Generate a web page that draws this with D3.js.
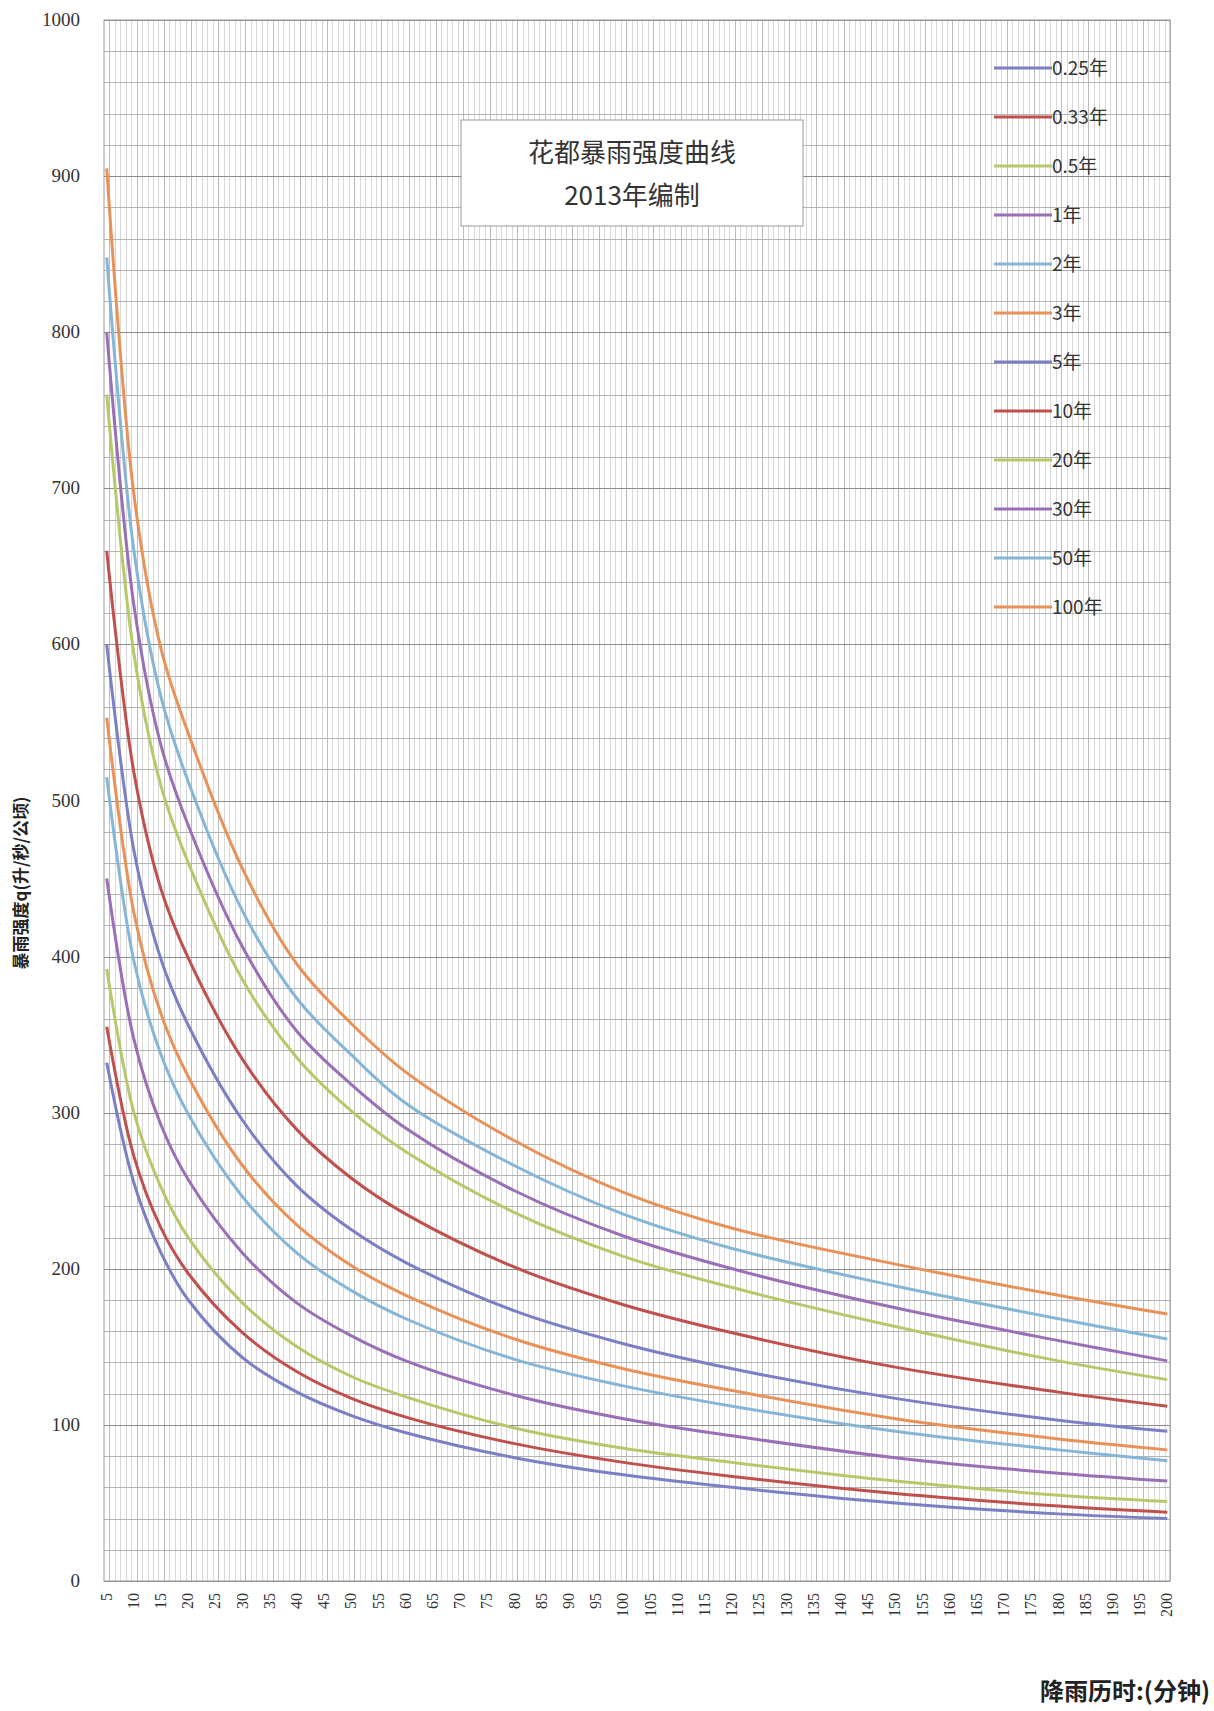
<!DOCTYPE html>
<html><head><meta charset="utf-8">
<script src="https://cdn.jsdelivr.net/npm/d3@7"></script>
<style>body{margin:0;background:#fff}</style>
</head><body><div id="chart"></div>
<script>
var minutes = [5,10,15,20,30,40,50,60,80,100,120,150,180,200];
var seriesNames = ["0.25年","0.33年","0.5年","1年","2年","3年","5年","10年","20年","30年","50年","100年"];
var q025 = [332,255,210,180,143,121,106,95,79,68,60,50,43,40];
var q033 = [355,272,226,197,159,134,117,105,88,76,67,56,48,44];
var q05  = [392,300,252,220,178,150,131,118,98,85,76,64,55,51];
var q1   = [450,347,292,257,210,178,157,141,119,104,93,79,69,64];
var q2   = [515,397,337,299,246,210,186,168,142,125,112,96,84,77];
var q3   = [553,428,363,323,266,228,202,183,155,136,122,104,91,84];
var q5   = [600,468,398,356,295,253,225,204,173,152,136,117,103,96];
var q10  = [660,518,443,399,334,289,258,235,201,177,159,137,121,112];
var q20  = [760,594,509,460,385,335,301,275,236,208,188,163,141,129];
var q30  = [800,625,535,484,406,352,318,290,250,221,200,175,154,141];
var q50  = [848,660,566,512,429,373,337,306,266,235,213,189,168,155];
var q100 = [905,696,597,543,456,395,357,326,282,249,226,203,183,171];
var seriesValues = [q025,q033,q05,q1,q2,q3,q5,q10,q20,q30,q50,q100];
var colors = ["#7b7fc4","#c0504d","#b5c96a","#9a6fb5","#86b6d6","#e8925a","#7b7fc4","#c0504d","#b5c96a","#9a6fb5","#86b6d6","#e8925a"];
var yTicks = d3.range(0,1001,100);
var xTicks = d3.range(5,201,5);

var W = 1214, H = 1711;
var m = {left:104, right:1170, top:20, bottom:1581};
var svg = d3.select("#chart").append("svg").attr("width",W).attr("height",H);

var x = d3.scaleLinear().domain([4.5,200.5]).range([m.left,m.right]);
var y = d3.scaleLinear().domain([0,1000]).range([m.bottom,m.top]);

var grid = svg.append("g");
grid.selectAll("line.v").data(d3.range(5,201,1)).enter().append("line")
  .attr("x1",function(d){return Math.round(x(d+0.5))+0.5;}).attr("x2",function(d){return Math.round(x(d+0.5))+0.5;})
  .attr("y1",m.top).attr("y2",m.bottom)
  .attr("stroke",function(d){return d%5===0?"#bcbcbc":"#d8d8d8";}).attr("stroke-width",1);
grid.selectAll("line.h").data(d3.range(0,1001,20)).enter().append("line")
  .attr("x1",m.left).attr("x2",m.right)
  .attr("y1",function(d){return Math.round(y(d))+0.5;}).attr("y2",function(d){return Math.round(y(d))+0.5;})
  .attr("stroke",function(d){return d%100===0?"#8c8c8c":"#b4b4b4";}).attr("stroke-width",1);
svg.append("rect").attr("x",m.left).attr("y",m.top).attr("width",m.right-m.left).attr("height",m.bottom-m.top)
  .attr("fill","none").attr("stroke","#999");

svg.append("g").selectAll("text").data(yTicks).enter().append("text")
  .attr("x",80).attr("y",function(d){return y(d)+6;}).attr("text-anchor","end")
  .attr("font-family","Liberation Serif").attr("font-size",19).attr("fill","#333")
  .text(function(d){return d;});

svg.append("g").selectAll("text").data(xTicks).enter().append("text")
  .attr("transform",function(d){return "translate("+(x(d)+5)+","+(m.bottom+12)+") rotate(-90)";})
  .attr("text-anchor","end")
  .attr("font-family","Liberation Serif").attr("font-size",16).attr("fill","#333")
  .text(function(d){return d;});

var line = d3.line().x(function(d,i){return x(minutes[i]);}).y(function(d){return y(d);}).curve(d3.curveCatmullRom.alpha(0.5));
svg.append("g").selectAll("path").data(seriesValues).enter().append("path")
  .attr("d",line).attr("fill","none").attr("stroke-width",3)
  .attr("stroke",function(d,i){return colors[i];});

var lg = svg.append("g").attr("transform","translate(994,68)");
seriesNames.forEach(function(n,i){
  var g = lg.append("g").attr("transform","translate(0,"+(i*49)+")");
  g.append("line").attr("x1",0).attr("x2",58).attr("stroke",colors[i]).attr("stroke-width",3);
  g.append("text").attr("x",58).attr("y",7).attr("font-family","Noto Sans CJK SC").attr("font-size",19).attr("fill","#333").text(n);
});

svg.append("rect").attr("x",461).attr("y",120).attr("width",342).attr("height",106)
  .attr("fill","#fff").attr("stroke","#999");
svg.append("text").attr("x",632).attr("y",162).attr("text-anchor","middle")
  .attr("font-family","Noto Sans CJK SC").attr("font-size",26).attr("fill","#333").text("花都暴雨强度曲线");
svg.append("text").attr("x",632).attr("y",205).attr("text-anchor","middle")
  .attr("font-family","Noto Sans CJK SC").attr("font-size",26).attr("fill","#333").text("2013年编制");

svg.append("text").attr("transform","translate(27,883) rotate(-90)").attr("text-anchor","middle")
  .attr("font-family","Noto Sans CJK SC").attr("font-weight","bold").attr("font-size",17).attr("fill","#222")
  .text("暴雨强度q(升/秒/公顷)");
svg.append("text").attr("x",1210).attr("y",1700).attr("text-anchor","end")
  .attr("font-family","Noto Sans CJK SC").attr("font-weight","bold").attr("font-size",24).attr("fill","#222")
  .text("降雨历时:(分钟)");
</script></body></html>
